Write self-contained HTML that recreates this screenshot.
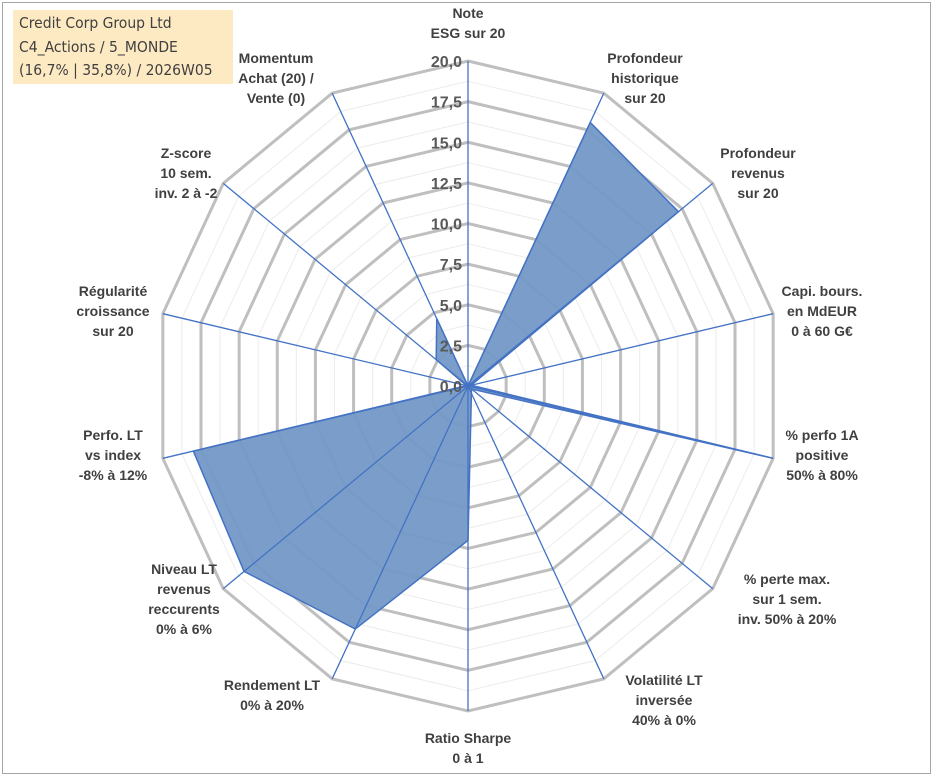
<!DOCTYPE html>
<html><head><meta charset="utf-8"><style>
body{margin:0;background:#fff;width:933px;height:776px;overflow:hidden;font-family:"Liberation Sans",sans-serif}
#frame{position:absolute;left:2px;top:2px;width:927px;height:770px;border:1px solid #a6a6a6}
#title{position:absolute;left:13px;top:10px;width:220px;height:74px;background:#fdeac3;color:#404040;font-size:15.5px;line-height:23.5px;padding:2px 0 0 6px;box-sizing:border-box;font-family:"DejaVu Sans Condensed","Liberation Sans Narrow","Liberation Sans",sans-serif}
svg{position:absolute;left:0;top:0}
.lab{font-weight:bold;font-size:14px;fill:#404040;text-anchor:middle}
.tick{font-weight:bold;font-size:16px;fill:#595959;text-anchor:end}
</style></head><body>
<div id="frame"></div>
<svg id="chart" width="933" height="776"></svg>
<div id="title">Credit Corp Group Ltd<br>C4_Actions / 5_MONDE<br>(16,7% | 35,8%) / 2026W05</div>
<script>
const categories=[["Note","ESG sur 20"],["Profondeur","historique","sur 20"],["Profondeur","revenus","sur 20"],["Capi. bours.","en MdEUR","0 à 60 G€"],["% perfo 1A","positive","50% à 80%"],["% perte max.","sur 1 sem.","inv. 50% à 20%"],["Volatilité LT","inversée","40% à 0%"],["Ratio Sharpe","0 à 1"],["Rendement LT","0% à 20%"],["Niveau LT","revenus","reccurents","0% à 6%"],["Perfo. LT","vs index","-8% à 12%"],["Régularité","croissance","sur 20"],["Z-score","10 sem.","inv. 2 à -2"],["Momentum","Achat (20) /","Vente (0)"]];
const values=[0,18,17.2,0.2,20,0.3,0.5,9.5,16.6,18.3,18,0.1,2.6,4.6];
const tickLabels=["0,0","2,5","5,0","7,5","10,0","12,5","15,0","17,5","20,0"];
const labelPos=[[468,18],[645,63],[758,158],[822,296],[822,440],[787,584],[664,685],[468,743],[272,690],[184,574],[113,440],[113,296],[186,158],[276,63]];
const NS="http://www.w3.org/2000/svg";
const svg=document.getElementById('chart');
const cx=468,cy=386,rx=313,ry=325,maxV=20;
const N=categories.length;
function pt(i,v){const a=2*Math.PI*i/N;return [cx+Math.sin(a)*rx*v/maxV,cy-Math.cos(a)*ry*v/maxV];}
function mk(t,at){const e=document.createElementNS(NS,t);for(const k in at)e.setAttribute(k,at[k]);svg.appendChild(e);return e;}
for(let k=1;k<=16;k++){const v=k*1.25;const pts=categories.map((c,i)=>pt(i,v).join(',')).join(' ');
 const major=k%2===0;
 const g=mk('polygon',{points:pts,fill:'none',stroke:major?'#bfbfbf':'#ececec','stroke-width':major?3:1});
 
 }
const sp=values.map((v,i)=>pt(i,v).join(',')).join(' ');
const poly=mk('polygon',{points:sp,fill:'#7399c6','fill-opacity':0.95,stroke:'#4472c4','stroke-width':1.5});


categories.forEach((c,i)=>{const p=pt(i,maxV);
 const l=mk('line',{x1:cx,y1:cy,x2:p[0],y2:p[1],stroke:'#4472c4','stroke-width':1.3});
 
 });
tickLabels.forEach((t,k)=>{const y=cy-ry*k*2.5/maxV;
 const e=mk('text',{x:cx-6,y:y+6,class:'tick'});e.textContent=t;
 
 });
categories.forEach((lines,i)=>{const [x,y]=labelPos[i];
 const t=mk('text',{x:x,y:y,class:'lab'});
 
 
 lines.forEach((s,j)=>{const ts=document.createElementNS(NS,'tspan');ts.setAttribute('x',x);ts.setAttribute('dy',j?20:0);ts.textContent=s;t.appendChild(ts);});});
</script>
</body></html>
